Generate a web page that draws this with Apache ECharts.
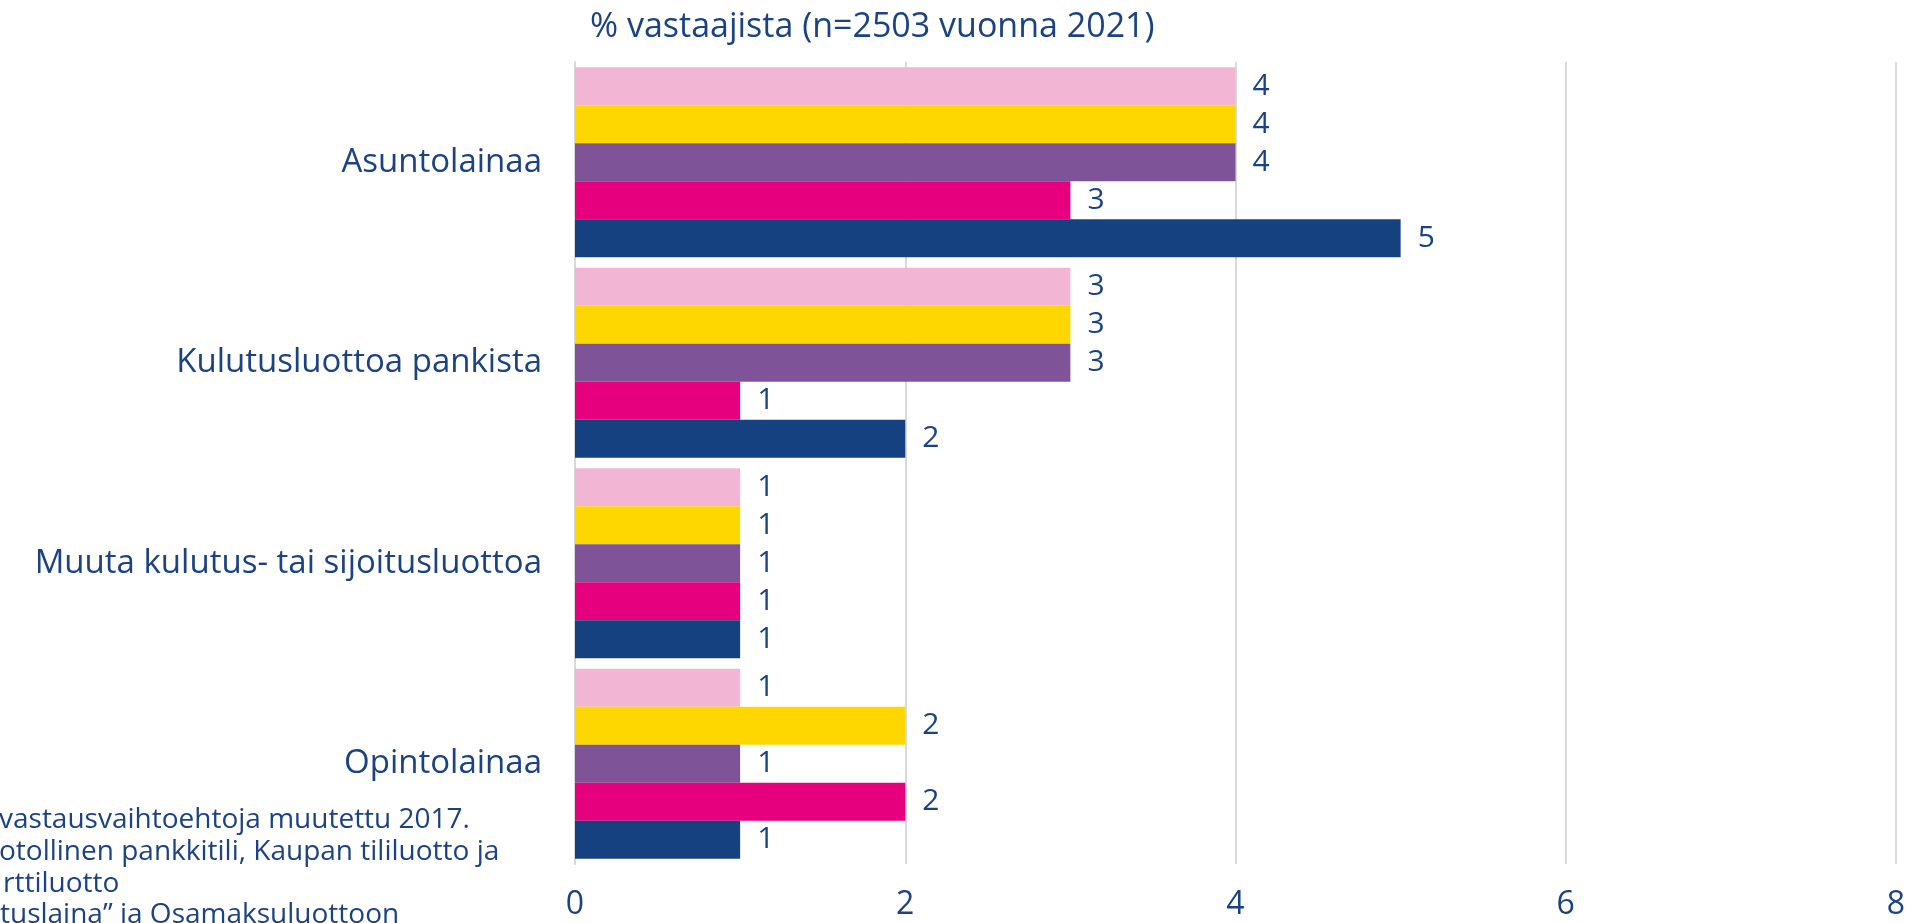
<!DOCTYPE html>
<html>
<head>
<meta charset="utf-8">
<script src="https://cdn.jsdelivr.net/npm/echarts@6/dist/echarts.min.js"></script>
<style>
html,body{margin:0;padding:0;background:#fff;}
#chart{width:1909px;height:923px;}
</style>
</head>
<body>
<div id="chart"></div>
<script>
const categories = ['Asuntolainaa', 'Kulutusluottoa pankista', 'Muuta kulutus- tai sijoitusluottoa', 'Opintolainaa'];
const seriesNames = ['2013', '2015', '2017', '2019', '2021'];
const s1 = [4, 3, 1, 1];
const s2 = [4, 3, 1, 2];
const s3 = [4, 3, 1, 1];
const s4 = [3, 1, 1, 2];
const s5 = [5, 2, 1, 1];
const seriesColors = ['#F3B5D4', '#FFD700', '#7F5398', '#E6007E', '#164181'];
const xTicks = [0, 2, 4, 6, 8];
const titleText = '% vastaajista (n=2503 vuonna 2021)';
const noteLines = [
  'vastausvaihtoehtoja muutettu 2017.',
  'otollinen pankkitili, Kaupan tililuotto ja',
  'rttiluotto',
  'tuslaina\u201D ja Osamaksuluottoon'
];

const NAVY = '#1B4282';
const FONT = 'Open Sans';
const values = [s1, s2, s3, s4, s5];

const chart = echarts.init(document.getElementById('chart'));
const noteY = [820, 852, 884, 915];
const noteX = [-1, -1, 3, 0];
chart.setOption({
  animation: false,
  backgroundColor: '#ffffff',
  title: {
    text: titleText,
    left: 585,
    top: 5,
    textStyle: { fontFamily: FONT, fontSize: 34, fontWeight: 'normal', color: NAVY }
  },
  graphic: noteLines.map((t, i) => ({
    type: 'text',
    x: noteX[i],
    y: noteY[i],
    style: {
      text: t,
      fontFamily: FONT,
      fontSize: 28,
      fill: NAVY,
      align: 'left',
      verticalAlign: 'middle'
    }
  })),
  grid: { left: 575, right: 13, top: 62, bottom: 923 - 864, containLabel: false },
  xAxis: {
    type: 'value',
    min: xTicks[0],
    max: xTicks[xTicks.length - 1],
    interval: 2,
    axisLine: { show: false },
    axisTick: { show: false },
    splitLine: { lineStyle: { color: '#D9D9D9', width: 2 } },
    axisLabel: { fontFamily: FONT, fontSize: 32, color: NAVY, margin: 25 }
  },
  yAxis: {
    type: 'category',
    data: categories,
    inverse: true,
    axisLine: { show: true, lineStyle: { color: '#D9D9D9', width: 2 } },
    axisTick: { show: false },
    axisLabel: { fontFamily: FONT, fontSize: 33, color: NAVY, margin: 33 }
  },
  series: values.map((v, i) => ({
    name: seriesNames[i],
    type: 'bar',
    data: v,
    barGap: '0%',
    barCategoryGap: '5.2%',
    itemStyle: { color: seriesColors[i] },
    label: {
      show: true,
      position: 'right',
      distance: 17,
      fontFamily: FONT,
      fontSize: 30,
      color: NAVY
    }
  }))
});
</script>
</body>
</html>
